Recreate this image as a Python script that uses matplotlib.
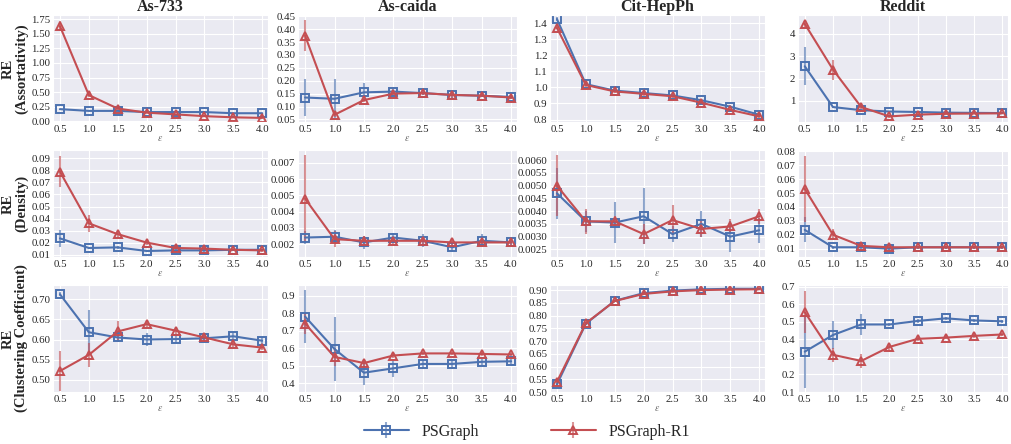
import numpy as np
import matplotlib
matplotlib.use('Agg')
import matplotlib.pyplot as plt
import seaborn as sns

sns.set_style('darkgrid')
plt.rcParams['font.family'] = ['Liberation Serif', 'DejaVu Serif']
plt.rcParams['mathtext.fontset'] = 'stix'

# Data
eps = [0.5, 1.0, 1.5, 2.0, 2.5, 3.0, 3.5, 4.0]
datasets = ['As-733', 'As-caida', 'Cit-HepPh', 'Reddit']
metrics = ['RE\n(Assortativity)', 'RE\n(Density)', 'RE\n(Clustering Coefficient)']

# Assortativity
asr_ps = [[0.21, 0.18, 0.18, 0.16, 0.16, 0.16, 0.14, 0.14],
          [0.135, 0.13, 0.155, 0.158, 0.152, 0.145, 0.142, 0.137],
          [1.425, 1.02, 0.98, 0.965, 0.95, 0.92, 0.88, 0.83],
          [2.55, 0.72, 0.58, 0.52, 0.50, 0.47, 0.46, 0.45]]
asr_ps_err = [[0.01, 0.01, 0.01, 0.01, 0.01, 0.01, 0.01, 0.01],
              [0.07, 0.075, 0.035, 0.01, 0.008, 0.01, 0.006, 0.006],
              [0.01, 0.01, 0.008, 0.008, 0.006, 0.008, 0.008, 0.008],
              [0.85, 0.05, 0.04, 0.03, 0.03, 0.03, 0.03, 0.03]]
asr_r1 = [[1.63, 0.45, 0.22, 0.15, 0.12, 0.09, 0.07, 0.06],
          [0.375, 0.068, 0.125, 0.15, 0.152, 0.145, 0.142, 0.135],
          [1.37, 1.015, 0.975, 0.96, 0.945, 0.905, 0.86, 0.82],
          [4.45, 2.40, 0.72, 0.30, 0.38, 0.42, 0.43, 0.44]]
asr_r1_err = [[0.08, 0.03, 0.02, 0.01, 0.01, 0.01, 0.01, 0.01],
              [0.06, 0.008, 0.006, 0.008, 0.006, 0.015, 0.006, 0.006],
              [0.01, 0.01, 0.008, 0.015, 0.008, 0.01, 0.008, 0.008],
              [0.15, 0.45, 0.08, 0.05, 0.04, 0.04, 0.04, 0.04]]

# Density
den_ps = [[0.0235, 0.0155, 0.016, 0.013, 0.0135, 0.0135, 0.014, 0.014],
          [0.0024, 0.00245, 0.0021, 0.0024, 0.0022, 0.0018, 0.0022, 0.0021],
          [0.0047, 0.0036, 0.00355, 0.0038, 0.0031, 0.0035, 0.0030, 0.00325],
          [0.0235, 0.011, 0.011, 0.010, 0.011, 0.011, 0.011, 0.011]]
den_ps_err = [[0.007, 0.001, 0.001, 0.001, 0.001, 0.001, 0.001, 0.001],
              [0.0004, 0.0004, 0.0004, 0.0003, 0.0004, 0.0003, 0.0004, 0.0002],
              [0.001, 0.0004, 0.0008, 0.0011, 0.0003, 0.0005, 0.0006, 0.0005],
              [0.009, 0.001, 0.001, 0.001, 0.001, 0.001, 0.001, 0.001]]
den_r1 = [[0.079, 0.036, 0.027, 0.020, 0.0155, 0.015, 0.014, 0.0135],
          [0.0048, 0.0023, 0.0022, 0.0022, 0.0022, 0.0021, 0.0021, 0.0021],
          [0.0050, 0.0036, 0.0036, 0.0031, 0.00365, 0.0033, 0.0034, 0.0038],
          [0.053, 0.020, 0.012, 0.011, 0.011, 0.011, 0.011, 0.011]]
den_r1_err = [[0.013, 0.007, 0.003, 0.002, 0.001, 0.001, 0.001, 0.001],
              [0.0027, 0.0005, 0.0003, 0.0002, 0.0002, 0.0003, 0.0002, 0.0002],
              [0.0012, 0.0005, 0.0002, 0.0004, 0.0006, 0.0003, 0.0003, 0.0003],
              [0.024, 0.004, 0.001, 0.001, 0.001, 0.001, 0.001, 0.001]]

# Clustering coefficient
cc_ps = [[0.712, 0.618, 0.605, 0.600, 0.601, 0.603, 0.608, 0.597],
         [0.78, 0.595, 0.46, 0.485, 0.51, 0.51, 0.522, 0.525],
         [0.53, 0.768, 0.858, 0.888, 0.898, 0.903, 0.905, 0.905],
         [0.33, 0.425, 0.485, 0.485, 0.505, 0.52, 0.508, 0.503]]
cc_ps_err = [[0.005, 0.055, 0.01, 0.015, 0.01, 0.008, 0.01, 0.008],
             [0.15, 0.18, 0.07, 0.05, 0.03, 0.03, 0.02, 0.015],
             [0.005, 0.005, 0.005, 0.005, 0.005, 0.004, 0.004, 0.004],
             [0.21, 0.08, 0.06, 0.01, 0.01, 0.01, 0.01, 0.01]]
cc_r1 = [[0.522, 0.562, 0.620, 0.638, 0.622, 0.605, 0.588, 0.580],
         [0.74, 0.55, 0.515, 0.558, 0.57, 0.57, 0.567, 0.564],
         [0.54, 0.77, 0.857, 0.885, 0.895, 0.900, 0.902, 0.903],
         [0.555, 0.312, 0.277, 0.357, 0.403, 0.41, 0.42, 0.428]]
cc_r1_err = [[0.05, 0.03, 0.025, 0.008, 0.008, 0.008, 0.006, 0.006],
             [0.06, 0.05, 0.02, 0.015, 0.01, 0.01, 0.01, 0.01],
             [0.005, 0.005, 0.005, 0.005, 0.005, 0.004, 0.004, 0.004],
             [0.12, 0.04, 0.04, 0.015, 0.01, 0.01, 0.01, 0.01]]

# Y tick labels as shown in the reference
yticks = [[[0.00, 0.25, 0.50, 0.75, 1.00, 1.25, 1.50, 1.75],
           [0.05, 0.10, 0.15, 0.20, 0.25, 0.30, 0.35, 0.40, 0.45],
           [0.8, 0.9, 1.0, 1.1, 1.2, 1.3, 1.4],
           [1, 2, 3, 4]],
          [[0.01, 0.02, 0.03, 0.04, 0.05, 0.06, 0.07, 0.08, 0.09],
           [0.002, 0.003, 0.004, 0.005, 0.006, 0.007],
           [0.0025, 0.0030, 0.0035, 0.0040, 0.0045, 0.0050, 0.0055, 0.0060],
           [0.01, 0.02, 0.03, 0.04, 0.05, 0.06, 0.07, 0.08]],
          [[0.50, 0.55, 0.60, 0.65, 0.70],
           [0.4, 0.5, 0.6, 0.7, 0.8, 0.9],
           [0.50, 0.55, 0.60, 0.65, 0.70, 0.75, 0.80, 0.85, 0.90],
           [0.1, 0.2, 0.3, 0.4, 0.5, 0.6, 0.7]]]
ydigits = [[2, 2, 1, 0], [2, 3, 4, 2], [2, 1, 2, 1]]

rows = [(asr_ps, asr_ps_err, asr_r1, asr_r1_err),
        (den_ps, den_ps_err, den_r1, den_r1_err),
        (cc_ps, cc_ps_err, cc_r1, cc_r1_err)]

ylims = [[(-0.01, 1.82), (0.04, 0.455), (0.785, 1.45), (0.05, 4.85)],
         [(0.008, 0.097), (0.0012, 0.0078), (0.0022, 0.0064), (0.004, 0.081)],
         [(0.47, 0.735), (0.35, 0.96), (0.5, 0.92), (0.1, 0.71)]]

blue = '#4C72B0'
red = '#C44E52'

fig = plt.figure(figsize=(10.11, 4.44), dpi=100)
W, H = 1011, 444
lefts = [53, 298, 550, 798]
widths = [215, 219, 215, 210]
tops = [15, 150, 285]
height = 107

for r in range(3):
    ps, ps_err, r1, r1_err = rows[r]
    for c in range(4):
        ax = fig.add_axes([lefts[c] / W, 1 - (tops[r] + height) / H,
                           widths[c] / W, height / H])
        h1 = ax.errorbar(eps, ps[c], yerr=ps_err[c], color=blue, marker='s',
                         mfc='none', mew=1.4, ms=5.8, lw=1.5,
                         ecolor=matplotlib.colors.to_rgba(blue, 0.6), elinewidth=1.5,
                         label='PSGraph')
        h2 = ax.errorbar(eps, r1[c], yerr=r1_err[c], color=red, marker='^',
                         mfc='none', mew=1.4, ms=5.8, lw=1.5,
                         ecolor=matplotlib.colors.to_rgba(red, 0.6), elinewidth=1.5,
                         label='PSGraph-R1')
        ax.set_xticks(eps)
        ax.set_xticklabels([f'{e:.1f}' for e in eps])
        ax.set_xlim(0.38, 4.1)
        ax.set_yticks(yticks[r][c])
        d = ydigits[r][c]
        ax.set_yticklabels([f'{v:.{d}f}' for v in yticks[r][c]])
        ax.set_ylim(*ylims[r][c])
        ax.tick_params(labelsize=7.8, pad=2, length=0, colors='#262626')
        ax.set_xlabel(r'$\varepsilon$', fontsize=7, color='#666666', labelpad=0)
        if r == 0:
            ax.set_title(datasets[c], fontsize=11.5, fontweight='bold', pad=3)
        if c == 0:
            ax.set_ylabel(metrics[r], fontsize=10.5, fontweight='bold', labelpad=2,
                          linespacing=1.0)

fig.legend([h1, h2], ['PSGraph', 'PSGraph-R1'], loc='center',
           bbox_to_anchor=(527 / W, 1 - 432 / H), ncol=2, frameon=False,
           fontsize=11.5, columnspacing=4.5, handlelength=2.8)

fig.savefig('out.png', dpi=100)
